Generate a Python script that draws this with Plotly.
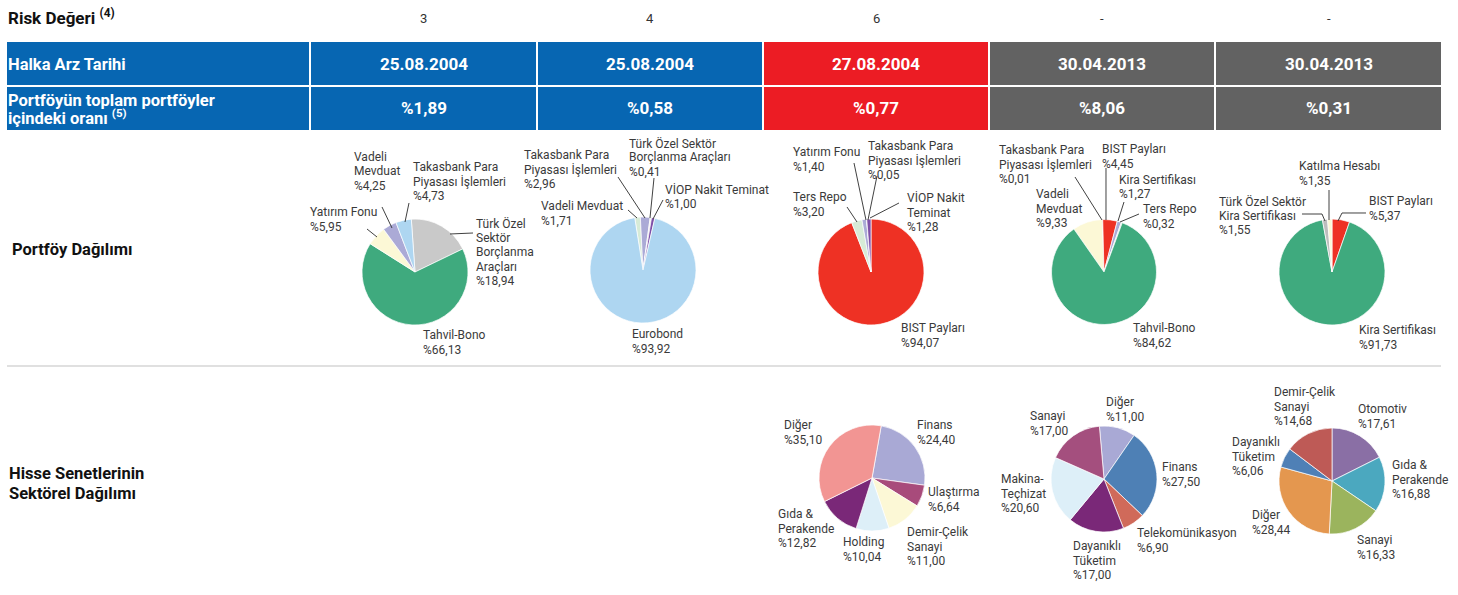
import plotly.graph_objects as go

W, H = 1458, 595

# ---------------- data ----------------
risk_values = ["3", "4", "6", "-", "-"]
ipo_dates = ["25.08.2004", "25.08.2004", "27.08.2004", "30.04.2013", "30.04.2013"]
portfolio_ratios = [1.89, 0.58, 0.77, 8.06, 0.31]

fund1_assets = ["Türk Özel Sektör Borçlanma Araçları", "Tahvil-Bono", "Yatırım Fonu",
                "Vadeli Mevduat", "Takasbank Para Piyasası İşlemleri"]
fund1_weights = [18.94, 66.13, 5.95, 4.25, 4.73]

fund2_assets = ["Vadeli Mevduat", "Takasbank Para Piyasası İşlemleri",
                "Türk Özel Sektör Borçlanma Araçları", "VİOP Nakit Teminat", "Eurobond"]
fund2_weights = [1.71, 2.96, 0.41, 1.00, 93.92]

fund3_assets = ["BIST Payları", "Ters Repo", "Yatırım Fonu",
                "Takasbank Para Piyasası İşlemleri", "VİOP Nakit Teminat"]
fund3_weights = [94.07, 3.20, 1.40, 0.05, 1.28]

fund4_assets = ["Vadeli Mevduat", "Takasbank Para Piyasası İşlemleri", "BIST Payları",
                "Kira Sertifikası", "Ters Repo", "Tahvil-Bono"]
fund4_weights = [9.33, 0.01, 4.45, 1.27, 0.32, 84.62]

fund5_assets = ["BIST Payları", "Kira Sertifikası", "Türk Özel Sektör Kira Sertifikası", "Katılma Hesabı"]
fund5_weights = [5.37, 91.73, 1.55, 1.35]

sector3_names = ["Finans", "Ulaştırma", "Demir-Çelik Sanayi", "Holding", "Gıda & Perakende", "Diğer"]
sector3_weights = [24.40, 6.64, 11.00, 10.04, 12.82, 35.10]

sector4_names = ["Diğer", "Finans", "Telekomünikasyon", "Dayanıklı Tüketim", "Makina-Teçhizat", "Sanayi"]
sector4_weights = [11.00, 27.50, 6.90, 17.00, 20.60, 17.00]

sector5_names = ["Otomotiv", "Gıda & Perakende", "Sanayi", "Diğer", "Dayanıklı Tüketim", "Demir-Çelik Sanayi"]
sector5_weights = [17.61, 16.88, 16.33, 28.44, 6.06, 14.68]

# ---------------- styles ----------------
C_GRAY = "#C9C9C9"
C_GREEN = "#3FAA7E"
C_CREAM = "#FCF8D6"
C_LAV = "#ABAAD6"
C_LBLUE = "#AED6F1"
C_LGREEN = "#D7EBD7"
C_PURP = "#7E4FA8"
C_RED = "#EE3124"

fund1_colors = [C_GRAY, C_GREEN, C_CREAM, C_LAV, C_LBLUE]
fund2_colors = [C_LGREEN, C_LAV, "#EDEDED", C_PURP, C_LBLUE]
fund3_colors = [C_RED, C_LGREEN, C_LAV, C_GRAY, C_PURP]
fund4_colors = [C_CREAM, C_GRAY, C_RED, C_LAV, C_LGREEN, C_GREEN]
fund5_colors = [C_RED, C_GREEN, "#BDBDBD", C_CREAM]
sector3_colors = ["#A9A9D5", "#A84B7B", "#FCF8D6", "#DDEFF8", "#7A2878", "#F29593"]
sector4_colors = ["#A9A9D5", "#4E80B5", "#D06A5A", "#7A2878", "#DDEFF8", "#A44F7E"]
sector5_colors = ["#8A6FA5", "#4BA8BF", "#9BB45D", "#E4974F", "#4F80B6", "#BE5A56"]

header_colors = ["#0766B2", "#0766B2", "#EC1C24", "#626262", "#626262"]
LABEL_BLUE = "#0766B2"

LABEL_FONT = "Roboto"
TXT = "#3a3a3a"


def fx(x):
    return x / W


def fy(y):
    return 1 - y / H


def pct(v):
    return "%" + ("%.2f" % v).replace(".", ",")


fig = go.Figure()


def add_pie(labels, values, colors, cx, cy, r, rot):
    fig.add_trace(go.Pie(
        labels=labels, values=values, sort=False, direction="clockwise", rotation=rot,
        marker=dict(colors=colors, line=dict(color="white", width=0.7)),
        textinfo="none", hoverinfo="label+percent", showlegend=False,
        domain=dict(x=[fx(cx - r), fx(cx + r)], y=[fy(cy + r), fy(cy - r)]),
    ))


def add_text(x, y, lines, size=12, color=TXT, bold=False, anchor="left", spacing=14.5, family=LABEL_FONT):
    for i, line in enumerate(lines):
        fig.add_annotation(
            x=fx(x), y=fy(y + i * spacing), xref="paper", yref="paper",
            text=("<b>%s</b>" % line) if bold else line, showarrow=False,
            xanchor=anchor, yanchor="middle", borderpad=0, borderwidth=0,
            font=dict(size=size, color=color, family=family),
        )


def add_line(points, color="#2b2b2b", width=0.9):
    path = "M " + " L ".join("%f,%f" % (fx(px), fy(py)) for px, py in points)
    fig.add_shape(type="path", path=path, xref="paper", yref="paper",
                  line=dict(color=color, width=width))


# ---------------- pies ----------------
pies = [
    (fund1_assets, fund1_weights, fund1_colors, 415, 272, 53, -4),
    (fund2_assets, fund2_weights, fund2_colors, 643, 270, 53, -9),
    (fund3_assets, fund3_weights, fund3_colors, 871, 272, 53, 0),
    (fund4_assets, fund4_weights, fund4_colors, 1104, 272, 52.5, -35),
    (fund5_assets, fund5_weights, fund5_colors, 1332, 272, 53, 0),
    (sector3_names, sector3_weights, sector3_colors, 872, 478, 53, 10),
    (sector4_names, sector4_weights, sector4_colors, 1104, 479, 53, -5),
    (sector5_names, sector5_weights, sector5_colors, 1332, 481, 53, 0),
]
for p in pies:
    add_pie(*p)

# ---------------- table ----------------
cols = [(311, 536), (538, 762), (764, 988), (990, 1214), (1216, 1441)]
rows = [(42, 85), (87, 130)]
for (y0, y1) in rows:
    fig.add_shape(type="rect", xref="paper", yref="paper", x0=fx(7), x1=fx(309), y0=fy(y1), y1=fy(y0),
                  fillcolor=LABEL_BLUE, line=dict(width=0), layer="below")
    for (x0, x1), c in zip(cols, header_colors):
        fig.add_shape(type="rect", xref="paper", yref="paper", x0=fx(x0), x1=fx(x1), y0=fy(y1), y1=fy(y0),
                      fillcolor=c, line=dict(width=0), layer="below")

# separator
fig.add_shape(type="line", xref="paper", yref="paper", x0=fx(7), x1=fx(1441), y0=fy(366), y1=fy(366),
              line=dict(color="#D6D6D6", width=1.5))

# header texts
add_text(8, 17, ["Risk Değeri <sup>(4)</sup>"], size=17, color="#111111", bold=True)
add_text(8, 64, ["Halka Arz Tarihi"], size=16.5, color="white", bold=True)
add_text(8, 100, ["Portföyün toplam portföyler"], size=16.5, color="white", bold=True)
add_text(8, 117, ["içindeki oranı <sup>(5)</sup>"], size=16.5, color="white", bold=True)
for (x0, x1), rv, d, pr in zip(cols, risk_values, ipo_dates, portfolio_ratios):
    cx = (x0 + x1) / 2
    add_text(cx, 18, [rv], size=13, color="#333333", anchor="center")
    add_text(cx, 64, [d], size=17, color="white", bold=True, anchor="center")
    add_text(cx, 108, [pct(pr)], size=17, color="white", bold=True, anchor="center")

add_text(12, 249, ["Portföy Dağılımı"], size=16.5, color="#111111", bold=True)
add_text(9, 474, ["Hisse Senetlerinin", "Sektörel Dağılımı"], size=16.5, color="#111111", bold=True, spacing=19)

# ---------------- slice labels ----------------
# (weights list, index, x_left, y_first_line_center, wrapped name)
labels = [
    (fund1_weights, 3, 354, 157, "Vadeli|Mevduat"),
    (fund1_weights, 4, 413, 167, "Takasbank Para|Piyasası İşlemleri"),
    (fund1_weights, 2, 310, 212, "Yatırım Fonu"),
    (fund1_weights, 0, 476, 223, "Türk Özel|Sektör|Borçlanma|Araçları"),
    (fund1_weights, 1, 423, 335, "Tahvil-Bono"),

    (fund2_weights, 1, 524, 155, "Takasbank Para|Piyasası İşlemleri"),
    (fund2_weights, 2, 629, 143, "Türk Özel Sektör|Borçlanma Araçları"),
    (fund2_weights, 0, 541, 206, "Vadeli Mevduat"),
    (fund2_weights, 3, 665, 189, "VİOP Nakit Teminat"),
    (fund2_weights, 4, 632, 334, "Eurobond"),

    (fund3_weights, 2, 793, 152, "Yatırım Fonu"),
    (fund3_weights, 3, 868, 146, "Takasbank Para|Piyasası İşlemleri"),
    (fund3_weights, 1, 793, 197, "Ters Repo"),
    (fund3_weights, 4, 907, 198, "VİOP Nakit|Teminat"),
    (fund3_weights, 0, 901, 328, "BIST Payları"),

    (fund4_weights, 1, 999, 150, "Takasbank Para|Piyasası İşlemleri"),
    (fund4_weights, 2, 1102, 149, "BIST Payları"),
    (fund4_weights, 3, 1119, 180, "Kira Sertifikası"),
    (fund4_weights, 0, 1036, 194, "Vadeli|Mevduat"),
    (fund4_weights, 4, 1143, 209, "Ters Repo"),
    (fund4_weights, 5, 1133, 328, "Tahvil-Bono"),

    (fund5_weights, 3, 1299, 166, "Katılma Hesabı"),
    (fund5_weights, 2, 1219, 201, "Türk Özel Sektör|Kira Sertifikası"),
    (fund5_weights, 0, 1369, 201, "BIST Payları"),
    (fund5_weights, 1, 1359, 330, "Kira Sertifikası"),

    (sector3_weights, 5, 784, 425, "Diğer"),
    (sector3_weights, 0, 917, 425, "Finans"),
    (sector3_weights, 1, 928, 492, "Ulaştırma"),
    (sector3_weights, 4, 778, 514, "Gıda &|Perakende"),
    (sector3_weights, 3, 843, 542, "Holding"),
    (sector3_weights, 2, 907, 532, "Demir-Çelik|Sanayi"),

    (sector4_weights, 5, 1030, 416, "Sanayi"),
    (sector4_weights, 0, 1106, 402, "Diğer"),
    (sector4_weights, 1, 1162, 467, "Finans"),
    (sector4_weights, 4, 1001, 479, "Makina-|Teçhizat"),
    (sector4_weights, 2, 1137, 533, "Telekomünikasyon"),
    (sector4_weights, 3, 1073, 546, "Dayanıklı|Tüketim"),

    (sector5_weights, 5, 1274, 392, "Demir-Çelik|Sanayi"),
    (sector5_weights, 0, 1358, 409, "Otomotiv"),
    (sector5_weights, 4, 1232, 442, "Dayanıklı|Tüketim"),
    (sector5_weights, 1, 1392, 465, "Gıda &|Perakende"),
    (sector5_weights, 3, 1252, 515, "Diğer"),
    (sector5_weights, 2, 1357, 540, "Sanayi"),
]
for weights, idx, x, y, wrapped in labels:
    add_text(x, y, wrapped.split("|") + [pct(weights[idx])])

# ---------------- leader lines ----------------
leaders = [
    [(382, 207), (392, 228)],
    [(409, 203), (405, 222)],
    [(367, 229), (377, 237)],
    [(473, 233), (450, 234)],

    [(618, 177), (645, 218)],
    [(654, 178), (650, 218)],
    [(628, 210), (637, 218)],
    [(663, 200), (653, 219)],

    [(854, 163), (866, 220)],
    [(877, 176), (868, 220)],
    [(847, 207), (857, 222)],
    [(899, 203), (870, 218)],

    [(1075, 177), (1102, 220)],
    [(1106, 168), (1106, 220)],
    [(1124, 202), (1118, 221)],
    [(1139, 214), (1120, 222)],

    [(1329, 190), (1329, 220)],
    [(1302, 214), (1322, 214), (1325, 221)],
    [(1366, 213), (1342, 213), (1338, 221)],
]
for pts in leaders:
    add_line(pts)

fig.update_layout(
    width=W, height=H, margin=dict(l=0, r=0, t=0, b=0),
    paper_bgcolor="white", plot_bgcolor="white",
    font=dict(family=LABEL_FONT),
)

fig.write_html("out.html", config={"displayModeBar": False},
               post_script="document.body.style.margin='0';document.body.style.padding='0';")
